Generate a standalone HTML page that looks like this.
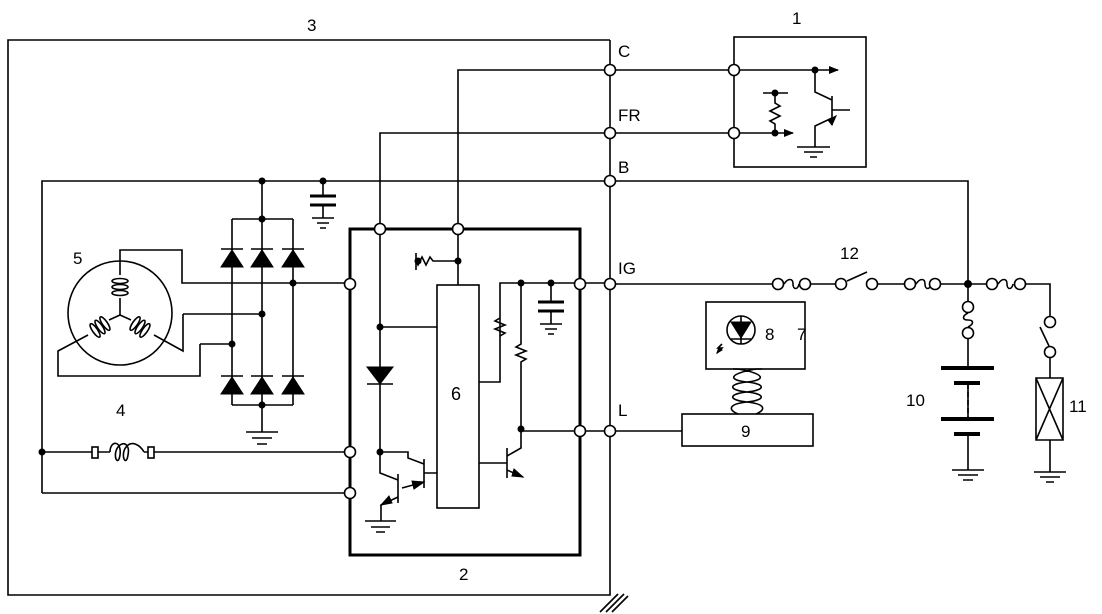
<!DOCTYPE html>
<html><head><style>html,body{margin:0;padding:0;background:#fff}svg{display:block}text{font-family:"Liberation Sans",sans-serif;fill:#000}</style></head><body>
<svg width="1102" height="614" viewBox="0 0 1102 614" xmlns="http://www.w3.org/2000/svg">
<defs>
<marker id="ar" markerWidth="10" markerHeight="8" refX="9" refY="4" orient="auto" markerUnits="userSpaceOnUse"><path d="M0,0 L10,4 L0,8 z" fill="#000"/></marker>
</defs>
<g fill="none" stroke="#000" stroke-width="1.6">
<path d="M610,40 H8 V595 H610 V40"/>
<path d="M600,612 L618,594 M606,612 L624,594 M612,612 L628,596"/>
<rect x="734" y="37" width="132" height="130"/>
<path d="M458,229 V70 H815"/>
<path d="M815,70 H838" marker-end="url(#ar)"/>
<path d="M815,70 V92 L832,100 M832,96 V125 M832,110 H850 M832,118 L815,126 V147"/>
<path d="M797,147 H830 M804,152 H823 M810,157 H817"/>
<path d="M380,229 V133 H775"/>
<path d="M775,133 H793" marker-end="url(#ar)"/>
<path d="M763,93 H788 M775,93 V103 l5,3 l-10,5 l10,5 l-10,5 l5,3 V133"/>
<path d="M42,493 V181 H968 V284"/>
<path d="M323,181 V196 M323,205 V218 M312,218 H334 M317,223 H329 M320,228 H326" />
<path d="M310,196 H336 M310,205 H336" stroke-width="3"/>
<path d="M262,181 V405 M232,219 H293 M232,219 V405 M293,219 V405 M232,405 H293 M262,405 V432 M246,432 H278 M252,438 H272 M257,444 H267"/>
<path d="M221,249 H243 M251,249 H273 M282,249 H304 M221,376 H243 M251,376 H273 M282,376 H304"/>
<circle cx="120" cy="313" r="52"/>
<path d="M120,275 V250 H182 V283 H350"/>
<path d="M120,298 V315 L131,320 M120,315 L109,320"/>
<ellipse cx="120" cy="281" rx="8" ry="2.5"/><ellipse cx="120" cy="287" rx="8" ry="2.5"/><ellipse cx="120" cy="293" rx="8" ry="2.5"/>
<g transform="rotate(-55 140 327)"><ellipse cx="140" cy="321" rx="8" ry="2.5"/><ellipse cx="140" cy="327" rx="8" ry="2.5"/><ellipse cx="140" cy="333" rx="8" ry="2.5"/></g>
<g transform="rotate(55 100 327)"><ellipse cx="100" cy="321" rx="8" ry="2.5"/><ellipse cx="100" cy="327" rx="8" ry="2.5"/><ellipse cx="100" cy="333" rx="8" ry="2.5"/></g>
<path d="M183,314 H262 M183,314 V351 L154,335"/>
<path d="M200,344 H232 M200,344 V376 H58 V351 L88,335"/>
<path d="M42,452 H92 M98,452 H110 M144,452 H148 M154,452 H350"/>
<rect x="92" y="447" width="6" height="11"/>
<rect x="148" y="447" width="6" height="11"/>
<path d="M110,452 C110,440 122,440 120,455 C118,468 112,455 118,447 C124,440 130,445 128,455 C126,468 120,455 126,447 C132,440 140,445 144,452"/>
<path d="M42,493 H350"/>
<rect x="350" y="229" width="230" height="326" stroke-width="3"/>
<rect x="437" y="285" width="42" height="223"/>
<path d="M380,229 V452 M380,327 H437 M367,384 H393"/>
<path d="M458,229 V285 M458,261 H433 l-3,-4 l-4,8 l-4,-8 l-4,8 l-2,-4 H416 M416,253 V270"/>
<path d="M479,382 H500 V318 l-5,3 l10,4 l-10,4 l10,4 l-5,3 V283 H610"/>
<path d="M521,283 V344 l-5,3 l10,4 l-10,4 l10,4 l-5,3 V431 H610"/>
<path d="M551,283 V302 M551,311 V324 M540,324 H562 M545,329 H557 M548,334 H554"/>
<path d="M538,302 H564 M538,311 H564" stroke-width="3"/>
<path d="M479,463 H507 M507,448 V478 M507,456 L521,448 V431 M507,470 L523,477"/>
<path d="M380,452 H408 V458 L424,464 M424,459 V488 M424,473 H437 M424,482 L402,488 M380,452 V473 L398,480 M398,474 V503 M398,497 L381,505 V521 M365,521 H396 M371,527 H390 M376,532 H385"/>
<path d="M610,431 H682"/>
<rect x="682" y="414" width="131" height="32"/>
<rect x="706" y="302" width="99" height="67"/>
<circle cx="741" cy="330" r="14"/>
<path d="M731,339 H751 M741,316 V344"/>
<path d="M722,344 l-4,4 h4 l-5,5"/>
<path d="M733,369 H738 C766,374 766,380 747,382 C728,384 728,390 747,392 C766,394 766,400 747,402 C728,404 728,410 738,414 M762,369 H756 C728,374 728,380 747,382 C766,384 766,390 747,392 C728,394 728,400 747,402 C766,404 766,410 756,414"/>
<path d="M610,284 H772 M811,284 H835 M878,284 H904 M941,284 H986 M1026,284 H1050 V316 M1050,358 V378 M1036,378 H1063 V440 H1036 Z M1036,378 L1063,440 M1063,378 L1036,440 M1050,440 V472 M1034,472 H1066 M1040,477 H1060 M1046,482 H1054"/>
<path d="M784,284 c4,-6 9,-6 9,0 c0,6 5,6 6,0 M916,284 c4,-6 9,-6 9,0 c0,6 5,6 6,0 M998,284 c4,-6 9,-6 9,0 c0,6 5,6 6,0 M847,281 L867,272 M1040,327 L1049,346"/>
<path d="M968,284 V301 M968,339 V368 M968,383 V419 M968,434 V470 M952,470 H984 M958,475 H978 M963,480 H973" />
<path d="M968,384 V418" stroke-dasharray="5,3"/>
<path d="M941,368 H994 M954,383 H980 M941,419 H994 M954,434 H980" stroke-width="4"/>
<path d="M968,313 c-6,3 -6,7 0,7 c6,0 6,4 0,7"/>
</g>
<g fill="#000" stroke="#000" stroke-width="1">
<path d="M221,267 L232,250 L243,267 Z M251,267 L262,250 L273,267 Z M282,267 L293,250 L304,267 Z M221,394 L232,377 L243,394 Z M251,394 L262,377 L273,394 Z M282,394 L293,377 L304,394 Z"/>
<path d="M367,367 L393,367 L380,384 Z"/>
<path d="M731,322 L751,322 L741,338 Z"/>
<path d="M836,116 L828,120 L832,125 Z M523,477 L514,469 L512,476 Z M424,482 L412,481 L414,489 Z M381,505 L389,496 L392,503 Z M717,353 l2,-6 l3,3 z"/>
<circle cx="262" cy="181" r="3"/><circle cx="323" cy="181" r="3"/><circle cx="262" cy="219" r="3"/><circle cx="262" cy="405" r="3"/>
<circle cx="293" cy="283" r="3"/><circle cx="262" cy="314" r="3"/><circle cx="232" cy="344" r="3"/><circle cx="42" cy="452" r="3"/>
<circle cx="380" cy="327" r="3"/><circle cx="380" cy="452" r="3"/><circle cx="458" cy="261" r="3"/><circle cx="418" cy="261" r="3"/>
<circle cx="521" cy="283" r="3"/><circle cx="551" cy="283" r="3"/><circle cx="521" cy="429" r="3"/>
<circle cx="815" cy="70" r="3"/><circle cx="775" cy="133" r="3"/><circle cx="775" cy="93" r="3"/><circle cx="968" cy="284" r="3.5"/>
</g>
<g fill="#fff" stroke="#000" stroke-width="1.6">
<circle cx="610" cy="70" r="5.5"/><circle cx="610" cy="133" r="5.5"/><circle cx="610" cy="181" r="5.5"/><circle cx="610" cy="284" r="5.5"/><circle cx="610" cy="431" r="5.5"/>
<circle cx="734" cy="70" r="5.5"/><circle cx="734" cy="133" r="5.5"/>
<circle cx="350" cy="284" r="5.5"/><circle cx="350" cy="452" r="5.5"/><circle cx="350" cy="493" r="5.5"/>
<circle cx="380" cy="229" r="5.5"/><circle cx="458" cy="229" r="5.5"/><circle cx="580" cy="284" r="5.5"/><circle cx="580" cy="431" r="5.5"/>
<circle cx="778" cy="284" r="5.5"/><circle cx="805" cy="284" r="5.5"/><circle cx="841" cy="284" r="5.5"/><circle cx="872" cy="284" r="5.5"/>
<circle cx="910" cy="284" r="5.5"/><circle cx="935" cy="284" r="5.5"/><circle cx="992" cy="284" r="5.5"/><circle cx="1020" cy="284" r="5.5"/>
<circle cx="968" cy="307" r="5.5"/><circle cx="968" cy="333" r="5.5"/><circle cx="1050" cy="322" r="5.5"/><circle cx="1050" cy="352" r="5.5"/>
</g>
<g font-size="17">
<text x="307" y="31">3</text><text x="792" y="24">1</text><text x="618" y="57">C</text><text x="618" y="121">FR</text><text x="618" y="173">B</text>
<text x="618" y="274">IG</text><text x="618" y="416">L</text><text x="73" y="264">5</text><text x="116" y="416">4</text>
<text x="451" y="400" font-size="18">6</text><text x="459" y="580">2</text><text x="765" y="340">8</text><text x="797" y="340">7</text>
<text x="741" y="437">9</text><text x="840" y="259">12</text><text x="906" y="406">10</text><text x="1069" y="412">11</text>
</g>
</svg>
</body></html>
